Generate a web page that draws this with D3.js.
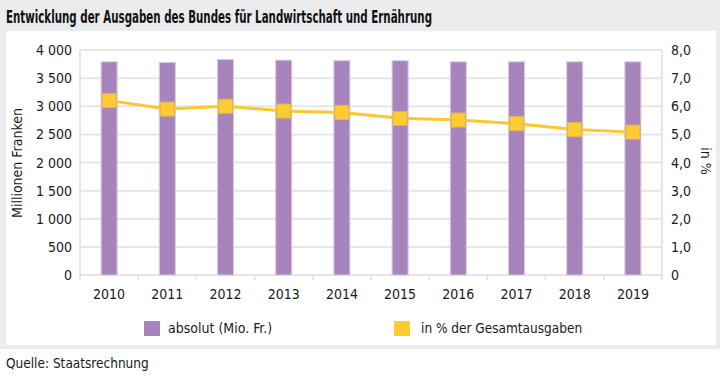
<!DOCTYPE html>
<html><head><meta charset="utf-8">
<script src="https://cdn.jsdelivr.net/npm/d3@7"></script>
<style>
body{margin:0;background:#fff;}
svg{display:block;font-family:"DejaVu Sans Condensed","Liberation Sans Narrow",sans-serif;}
</style></head><body>
<svg id="c" width="720" height="378"></svg>
<script>
const years = ["2010","2011","2012","2013","2014","2015","2016","2017","2018","2019"];
const absolut = [3790,3780,3830,3820,3810,3810,3790,3790,3790,3790];
const prozent = [6.2,5.9,6.0,5.83,5.78,5.57,5.51,5.38,5.17,5.08];
const leftTicks = [0,500,1000,1500,2000,2500,3000,3500,4000];
const rightTicks = [0,1,2,3,4,5,6,7,8];

const svg = d3.select("#c");
const W=720,H=378;
const m={l:80,r:662,t:50,b:275};
// backgrounds
svg.append("rect").attr("x",0).attr("y",0).attr("width",W).attr("height",350).attr("fill","#ebecee");
svg.append("rect").attr("x",6).attr("y",31).attr("width",710).attr("height",314).attr("fill","#fff");
svg.append("rect").attr("x",0).attr("y",349).attr("width",W).attr("height",29).attr("fill","#fff");

svg.append("text").attr("x",6).attr("y",23).attr("font-size",17.5).attr("font-weight","bold").attr("fill","#111")
  .attr("textLength",426).attr("lengthAdjust","spacingAndGlyphs")
  .text("Entwicklung der Ausgaben des Bundes für Landwirtschaft und Ernährung");

const x=d3.scaleBand().domain(years).range([m.l,m.r]).paddingInner(0.725).paddingOuter(0.3625);
const xb=d3.scaleBand().domain(years).range([m.l,m.r]);
const yL=d3.scaleLinear().domain([0,4000]).range([m.b,m.t]);
const yR=d3.scaleLinear().domain([0,8]).range([m.b,m.t]);

// grid
svg.append("g").selectAll("line").data(leftTicks).join("line")
  .attr("x1",m.l).attr("x2",m.r).attr("y1",d=>yL(d)).attr("y2",d=>yL(d))
  .attr("stroke","#e6e6e6").attr("stroke-width",2);
svg.append("line").attr("x1",m.l).attr("x2",m.l).attr("y1",m.t).attr("y2",m.b+5).attr("stroke","#e6e6e6").attr("stroke-width",2);
svg.append("line").attr("x1",m.r).attr("x2",m.r).attr("y1",m.t).attr("y2",m.b+5).attr("stroke","#e6e6e6").attr("stroke-width",2);
svg.append("g").selectAll("line").data(years.slice(1)).join("line")
  .attr("x1",d=>xb(d)).attr("x2",d=>xb(d)).attr("y1",m.b).attr("y2",m.b+5)
  .attr("stroke","#e6e6e6").attr("stroke-width",2);

// bars
svg.append("g").selectAll("rect").data(years).join("rect")
  .attr("x",d=>x(d)).attr("width",x.bandwidth())
  .attr("y",(d,i)=>yL(absolut[i])).attr("height",(d,i)=>m.b-yL(absolut[i]))
  .attr("fill","#a784bc").attr("stroke","#d8c9e2").attr("stroke-width",1);

// line
const cx=d=>xb(d)+xb.bandwidth()/2;
svg.append("path").datum(years).attr("fill","none").attr("stroke","#fdc82f").attr("stroke-width",3)
  .attr("d",d3.line().x(d=>cx(d)).y((d,i)=>yR(prozent[i])));
svg.append("g").selectAll("rect").data(years).join("rect")
  .attr("x",d=>cx(d)-7).attr("y",(d,i)=>yR(prozent[i])-7).attr("width",14).attr("height",14)
  .attr("fill","#fdcb33").attr("stroke","#e9b64a").attr("stroke-width",1);

// axis labels
svg.append("g").selectAll("text").data(leftTicks).join("text")
  .attr("x",72).attr("y",d=>yL(d)+5).attr("text-anchor","end").attr("font-size",14).attr("fill","#1a1a1a")
  .text(d=>d===0?"0":d3.format(",")(d).replace(/,/g," "));
svg.append("g").selectAll("text").data(rightTicks).join("text")
  .attr("x",671).attr("y",d=>yR(d)+5).attr("text-anchor","start").attr("font-size",14).attr("fill","#1a1a1a")
  .text(d=>d===0?"0":d3.format(".1f")(d).replace(".",","));
svg.append("g").selectAll("text").data(years).join("text")
  .attr("x",d=>cx(d)).attr("y",299).attr("text-anchor","middle").attr("font-size",14).attr("fill","#1a1a1a")
  .text(d=>d);

svg.append("text").attr("transform","translate(22,163) rotate(-90)").attr("text-anchor","middle")
  .attr("font-size",14).attr("fill","#1a1a1a").text("Millionen Franken");
svg.append("text").attr("transform","translate(701,161) rotate(90)").attr("text-anchor","middle")
  .attr("font-size",14).attr("fill","#1a1a1a").text("in %");

// legend
svg.append("rect").attr("x",144).attr("y",321).attr("width",16).attr("height",15).attr("fill","#a784bc");
svg.append("text").attr("x",168).attr("y",333).attr("font-size",14).attr("fill","#1a1a1a").text("absolut (Mio. Fr.)");
svg.append("rect").attr("x",394).attr("y",321).attr("width",16).attr("height",15).attr("fill","#fdcb33");
svg.append("text").attr("x",421).attr("y",333).attr("font-size",13.5).attr("fill","#1a1a1a").text("in % der Gesamtausgaben");

svg.append("text").attr("x",6).attr("y",368).attr("font-size",13.5).attr("fill","#1a1a1a").text("Quelle: Staatsrechnung");
</script></body></html>
